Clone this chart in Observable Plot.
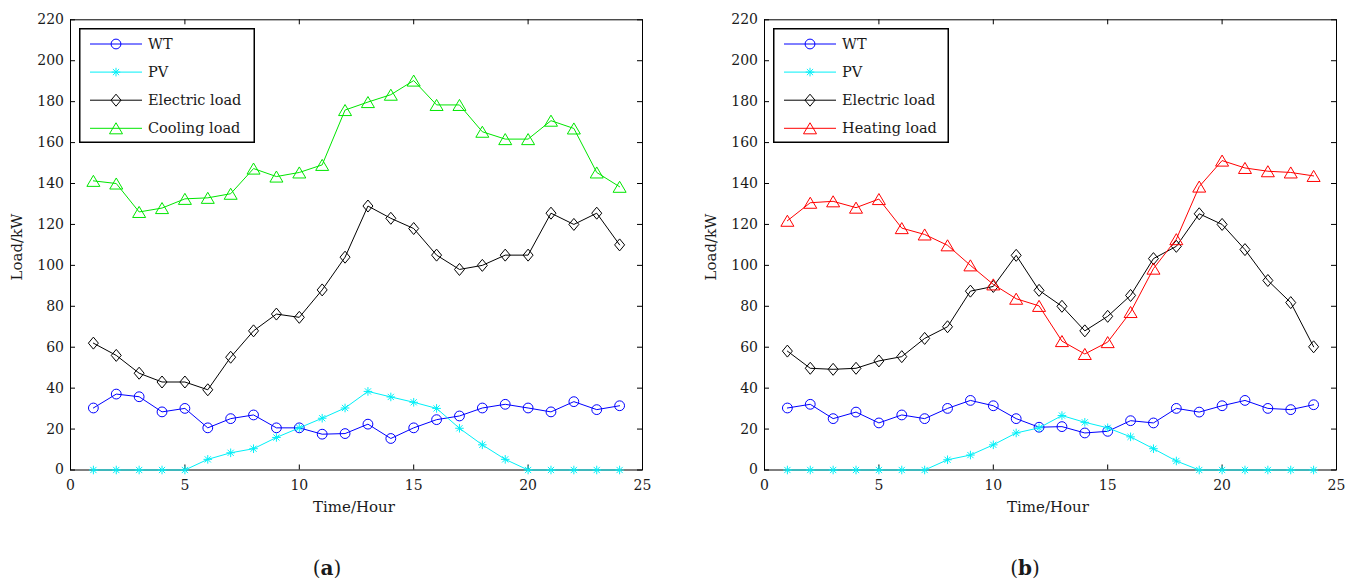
<!DOCTYPE html>
<html>
<head>
<meta charset="utf-8">
<script src="https://cdn.jsdelivr.net/npm/d3@7"></script>
<script src="https://cdn.jsdelivr.net/npm/@observablehq/plot@0.6"></script>
<style>
  html, body { margin: 0; padding: 0; background: #fff; }
  #root { position: relative; width: 1357px; height: 583px; overflow: hidden; font-family: "DejaVu Serif", serif; color: #1a1a1a; }
  .abs { position: absolute; }
  .lbl { position: absolute; white-space: nowrap; transform: translate(-50%, -50%); line-height: 1; }
</style>
</head>
<body>
<div id="root"></div>
<script>
// ---------------- data ----------------
const hours = [1,2,3,4,5,6,7,8,9,10,11,12,13,14,15,16,17,18,19,20,21,22,23,24];
const xTicks = [0,5,10,15,20,25];
const yTicks = [0,20,40,60,80,100,120,140,160,180,200,220];

// panel (a)
const aWT   = [30.3,37.1,35.8,28.4,30.1,20.6,25.1,26.9,20.6,20.6,17.5,17.8,22.4,15.4,20.6,24.6,26.4,30.3,32.1,30.3,28.4,33.4,29.5,31.4];
const aPV   = [0,0,0,0,0,5.2,8.4,10.4,15.9,20.6,25.3,30.3,38.4,35.7,33.1,30.1,20.4,12.3,5.2,0,0,0,0,0];
const aElec = [62,56,47.3,43,43,39.2,55.1,68,76.2,74.6,88,104,129,123,118,105,98,100,105,105,125.5,120,125.5,110];
const aCool = [141.3,140,126.1,128,132.5,133,135,147.3,143.4,145.4,149.1,175.9,179.8,183.4,190.3,178.4,178.4,165.3,161.7,161.7,170.7,166.9,145.4,138.4];

// panel (b)
const bWT   = [30.3,32.1,25.1,28.3,23,26.9,25.1,30.1,34,31.4,25.1,20.9,21.2,18.1,18.9,24.1,23,30.1,28.3,31.4,34,30.1,29.5,31.9];
const bPV   = [0,0,0,0,0,0,0,5,7.3,12.3,18.1,20.6,26.6,23.3,20.6,16.2,10.4,4.4,0,0,0,0,0,0];
const bElec = [58.1,49.7,49.2,49.7,53.3,55.4,64.3,70,87.4,89.7,104.9,87.8,80,68,75.1,85.3,103.3,109.3,125.2,120,107.7,92.6,81.8,60.2];
const bHeat = [121.8,130.6,131.3,128.2,132.4,118.2,115.1,109.8,100,90.7,83.7,80.2,63,56.7,62.5,77.2,98.4,112.8,138.5,151.2,147.6,146,145.4,143.7];

const namesA = ["WT","PV","Electric load","Cooling load"];
const namesB = ["WT","PV","Electric load","Heating load"];

// ---------------- styles ----------------
const symCircle = {draw(ctx, size){ const r = Math.sqrt(size/Math.PI); ctx.moveTo(r,0); ctx.arc(0,0,r,0,2*Math.PI); }};
const symDiamond = {draw(ctx, size){ const r = Math.sqrt(size/Math.PI); ctx.moveTo(0,-1.2*r); ctx.lineTo(r,0); ctx.lineTo(0,1.2*r); ctx.lineTo(-r,0); ctx.closePath(); }};
const symTriangle = {draw(ctx, size){ const r = Math.sqrt(size/Math.PI); const h = 0.85*r; ctx.moveTo(0,-h); ctx.lineTo(r,h); ctx.lineTo(-r,h); ctx.closePath(); }};
const symStar = {draw(ctx, size){ const r = Math.sqrt(size/Math.PI); const d = r*0.72;
  ctx.moveTo(-r,0); ctx.lineTo(r,0); ctx.moveTo(0,-r); ctx.lineTo(0,r);
  ctx.moveTo(-d,-d); ctx.lineTo(d,d); ctx.moveTo(-d,d); ctx.lineTo(d,-d); }};

const styleA = [
  {color:"#0000ff", sym:symCircle, r:4.9},
  {color:"#00f0f8", sym:symStar, r:4.3},
  {color:"#000000", sym:symDiamond, r:5},
  {color:"#00e600", sym:symTriangle, r:6.5}
];
const styleB = [
  {color:"#0000ff", sym:symCircle, r:4.9},
  {color:"#00f0f8", sym:symStar, r:4.3},
  {color:"#000000", sym:symDiamond, r:5},
  {color:"#ff0000", sym:symTriangle, r:6.5}
];

const root = document.getElementById("root");

function panel(seriesList, names, styles, cfg) {
  const plotW = cfg.width - cfg.ml - cfg.mr;
  const plotH = cfg.height - cfg.mt - cfg.mb;
  const marks = [
    Plot.frame({stroke:"#000", strokeWidth:1}),
    // inward ticks on all four sides
    Plot.tickX(xTicks, {x: d => d, insetTop: plotH - 5, stroke:"#000"}),
    Plot.tickX(xTicks, {x: d => d, insetBottom: plotH - 5, stroke:"#000"}),
    Plot.tickY(yTicks, {y: d => d, insetRight: plotW - 5, stroke:"#000"}),
    Plot.tickY(yTicks, {y: d => d, insetLeft: plotW - 5, stroke:"#000"}),
    Plot.axisX(xTicks, {anchor:"bottom", tickSize:0, tickPadding:10, label:null, fill:"#1a1a1a"}),
    Plot.axisY(yTicks, {anchor:"left", tickSize:0, tickPadding:6.5, label:null, fill:"#1a1a1a"})
  ];
  seriesList.forEach((vals, k) => {
    const rows = hours.map((h, i) => ({hour: h, value: vals[i], name: names[k]}));
    const st = styles[k];
    marks.push(Plot.line(rows, {x:"hour", y:"value", stroke: st.color, strokeWidth: 1}));
    marks.push(Plot.dot(rows, {x:"hour", y:"value", symbol: st.sym, r: st.r, stroke: st.color, fill:"none", strokeWidth: 1}));
  });
  const chart = Plot.plot({
    width: cfg.width, height: cfg.height,
    marginLeft: cfg.ml, marginRight: cfg.mr, marginTop: cfg.mt, marginBottom: cfg.mb,
    x: {domain:[0,25]},
    y: {domain:[0,220]},
    style: {fontFamily:"DejaVu Serif", fontSize:"14px", background:"transparent", overflow:"visible"},
    marks
  });
  chart.classList.add("abs");
  chart.style.left = cfg.left + "px";
  chart.style.top = "0px";
  root.appendChild(chart);

  const fx = cfg.left + cfg.ml;  // frame left in page
  const fy = cfg.mt;              // frame top
  // axis labels
  const xl = document.createElement("div");
  xl.className = "lbl"; xl.textContent = "Time/Hour";
  xl.style.fontSize = "15px"; xl.style.left = (fx + plotW/2 - 2) + "px"; xl.style.top = "507px";
  root.appendChild(xl);
  const yl = document.createElement("div");
  yl.className = "lbl"; yl.textContent = "Load/kW";
  yl.style.fontSize = "15px"; yl.style.left = (fx - 53.5) + "px"; yl.style.top = "247px";
  yl.style.transform = "translate(-50%, -50%) rotate(-90deg)";
  root.appendChild(yl);
  // caption
  const cap = document.createElement("div");
  cap.className = "lbl"; cap.innerHTML = "(<b>" + cfg.tag + "</b>)";
  cap.style.fontSize = "20px"; cap.style.left = cfg.capX + "px"; cap.style.top = "568px";
  root.appendChild(cap);

  // legend box
  const lw = 176, lh = 115, lx = fx + 9, ly = fy + 9;
  const svg = d3.create("svg").attr("width", lw).attr("height", lh)
    .style("position","absolute").style("left", lx + "px").style("top", ly + "px");
  svg.append("rect").attr("x",0.75).attr("y",0.75).attr("width",lw-1.5).attr("height",lh-1.5)
    .attr("fill","#fff").attr("stroke","#000").attr("stroke-width",1.5);
  names.forEach((nm, k) => {
    const st = styles[k];
    const cy = 16 + k*28.1;
    svg.append("line").attr("x1",11).attr("x2",63).attr("y1",cy).attr("y2",cy).attr("stroke",st.color).attr("stroke-width",1);
    svg.append("path").attr("transform",`translate(37,${cy})`)
      .attr("d", d3.symbol().type(st.sym).size(st.r*st.r*Math.PI)())
      .attr("fill","none").attr("stroke",st.color).attr("stroke-width",1);
    svg.append("text").attr("x",69).attr("y",cy).attr("dy","0.35em")
      .attr("font-family","DejaVu Serif").attr("font-size","14.5px").attr("fill","#1a1a1a").text(nm);
  });
  root.appendChild(svg.node());
}

panel([aWT, aPV, aElec, aCool], namesA, styleA,
  {left:0, width:690, height:540, ml:70, mr:48, mt:19.3, mb:70.5, tag:"a", capX:327});
panel([bWT, bPV, bElec, bHeat], namesB, styleB,
  {left:690, width:667, height:540, ml:74, mr:21, mt:19.3, mb:70.5, tag:"b", capX:1025});
</script>
</body>
</html>
